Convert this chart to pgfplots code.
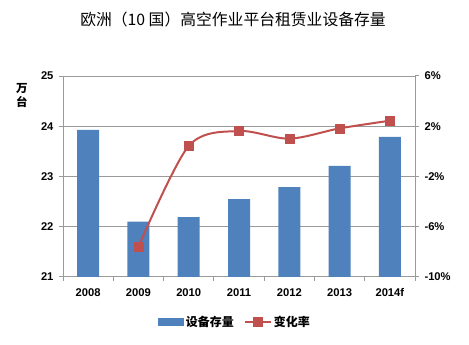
\documentclass[border=0pt]{standalone}
\usepackage{pgfplots}
\pgfplotsset{compat=1.18}
\usepackage{fontspec}
\setmainfont{Liberation Sans}
\newfontfamily\cjk{Noto Sans CJK SC}
\definecolor{barblue}{HTML}{4F81BD}
\definecolor{linered}{HTML}{C0504D}
\definecolor{gridgray}{HTML}{9A9A9A}
\pgfplotsset{
  redleg/.style={legend image code/.code={\draw[mark repeat=2,mark phase=2,##1] plot coordinates {(0pt,0pt) (13pt,0pt) (26pt,0pt)};}},
  blueleg/.style={legend image code/.code={\fill[barblue] (0pt,-3.5pt) rectangle (25pt,3.5pt);}},
}
\begin{document}
\begin{tikzpicture}
\path[use as bounding box] (0pt,0pt) rectangle (469pt,345pt);
\node at (233pt,325pt) {\cjk\fontsize{15.8}{18}\selectfont 欧洲（10 国）高空作业平台租赁业设备存量};
\node[font={\cjk\bfseries\fontsize{11.5}{13}\selectfont}] at (22pt,257pt) {万};
\node[font={\cjk\bfseries\fontsize{11.5}{13}\selectfont}] at (22pt,243pt) {台};
\begin{axis}[
  at={(63pt,68pt)}, anchor=south west,
  width=352pt, height=201pt, scale only axis,
  xmin=-0.5, xmax=6.5, ymin=21, ymax=25,
  ytick={21,22,23,24,25},
  xtick={0,1,2,3,4,5,6},
  xticklabels={2008,2009,2010,2011,2012,2013,2014f},
  minor xtick={-0.5,0.5,1.5,2.5,3.5,4.5,5.5,6.5},
  major x tick style={draw=none},
  minor tick length=4pt, major tick length=4pt,
  tick align=outside,
  axis x line*=bottom, axis y line*=left,
  axis line style={gridgray, line width=1pt},
  every tick/.style={gridgray, line width=1pt},
  ymajorgrids, grid style={gridgray, line width=1pt},
  /pgf/number format/assume math mode=true,
  tick label style={font=\bfseries\fontsize{11.2}{13}\selectfont},
  xticklabel style={yshift=-4pt},
  yticklabel style={xshift=-2pt},
  ybar, bar width=22pt,
]
\addplot[fill=barblue, draw=none] coordinates {(0,23.93) (1,22.10) (2,22.19) (3,22.55) (4,22.79) (5,23.21) (6,23.79)};
\end{axis}
\begin{axis}[
  at={(63pt,68pt)}, anchor=south west,
  width=352pt, height=201pt, scale only axis,
  xmin=-0.5, xmax=6.5, ymin=-10, ymax=6,
  ytick={-10,-6,-2,2,6},
  yticklabel={\pgfmathprintnumber{\tick}\%},
  axis y line*=right, axis x line=none,
  tick align=outside, major tick length=4pt,
  axis line style={gridgray, line width=1pt},
  every tick/.style={gridgray, line width=1pt},
  /pgf/number format/assume math mode=true,
  tick label style={font=\bfseries\fontsize{11.2}{13}\selectfont},
  yticklabel style={xshift=2pt},
  legend columns=2,
  legend style={at={(0.489,-0.224)}, anchor=center, draw=none, fill=none,
    font=\cjk\bfseries\fontsize{12}{14}\selectfont,
    /tikz/every even column/.append style={column sep=8pt}},
]
\addlegendimage{blueleg}
\addlegendentry{设备存量}
\addplot[linered, line width=2pt, smooth, mark=square*, mark size=4.5pt,
  mark options={solid, fill=linered, line width=0.5pt}, redleg]
  coordinates {(1,-7.6) (2,0.43) (3,1.62) (4,1.01) (5,1.83) (6,2.44)};
\addlegendentry{变化率}
\end{axis}
\end{tikzpicture}
\end{document}
